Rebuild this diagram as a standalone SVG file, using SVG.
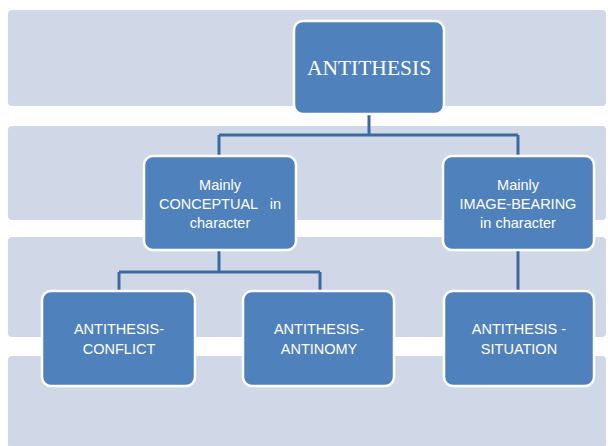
<svg xmlns="http://www.w3.org/2000/svg" width="608" height="446" viewBox="0 0 608 446">
<style>
.band{fill:#D0D8E8}
.box{fill:#4F81BD;stroke:#FFFFFF;stroke-width:2.5}
.t{fill:#FFFFFF;font-family:"Liberation Sans",Arial,sans-serif;font-size:14.5px;text-anchor:middle;white-space:pre}
.ts{fill:#FFFFFF;font-family:"Liberation Serif",serif;font-size:21.5px;text-anchor:middle}
.c{fill:none;stroke:#3C6A9E;stroke-width:3}
</style>
<rect width="608" height="446" fill="#FFFFFF"/>
<g id="bands">
<rect class="band" x="8" y="10" width="598" height="96" rx="4"/>
<rect class="band" x="8" y="126" width="598" height="94" rx="4"/>
<rect class="band" x="8" y="237" width="598" height="100" rx="4"/>
<rect class="band" x="8" y="356" width="598" height="92" rx="4"/>
</g>
<g id="connectors">
<path class="c" d="M369 115 V135 M219 135 H518 M219 135 V155 M518 135 V155"/>
<path class="c" d="M219 251 V272 M119 272 H320 M119 272 V290"/>
<path class="c" d="M320 272 V290"/>
<path class="c" d="M518 251 V290"/>
</g>
<g id="root">
<rect class="box" x="294" y="21" width="150" height="93" rx="9"/>
<text class="ts" x="369" y="75">ANTITHESIS</text>
</g>
<g id="conceptual">
<rect class="box" x="144" y="156" width="152" height="94" rx="9"/>
<text class="t" x="220" y="190">Mainly</text>
<text class="t" x="220" y="209">CONCEPTUAL   in</text>
<text class="t" x="220" y="228">character</text>
</g>
<g id="imagebearing">
<rect class="box" x="443" y="156" width="151" height="94" rx="9"/>
<text class="t" x="518" y="190">Mainly</text>
<text class="t" x="518" y="209">IMAGE-BEARING</text>
<text class="t" x="518" y="228">in character</text>
</g>
<g id="conflict">
<rect class="box" x="42" y="291" width="153" height="95" rx="9"/>
<text class="t" x="119" y="334">ANTITHESIS-</text>
<text class="t" x="119" y="354">CONFLICT</text>
</g>
<g id="antinomy">
<rect class="box" x="243" y="291" width="151" height="95" rx="9"/>
<text class="t" x="319" y="334">ANTITHESIS-</text>
<text class="t" x="319" y="354">ANTINOMY</text>
</g>
<g id="situation">
<rect class="box" x="444" y="291" width="150" height="95" rx="9"/>
<text class="t" x="519" y="334">ANTITHESIS -</text>
<text class="t" x="519" y="354">SITUATION</text>
</g>
</svg>
